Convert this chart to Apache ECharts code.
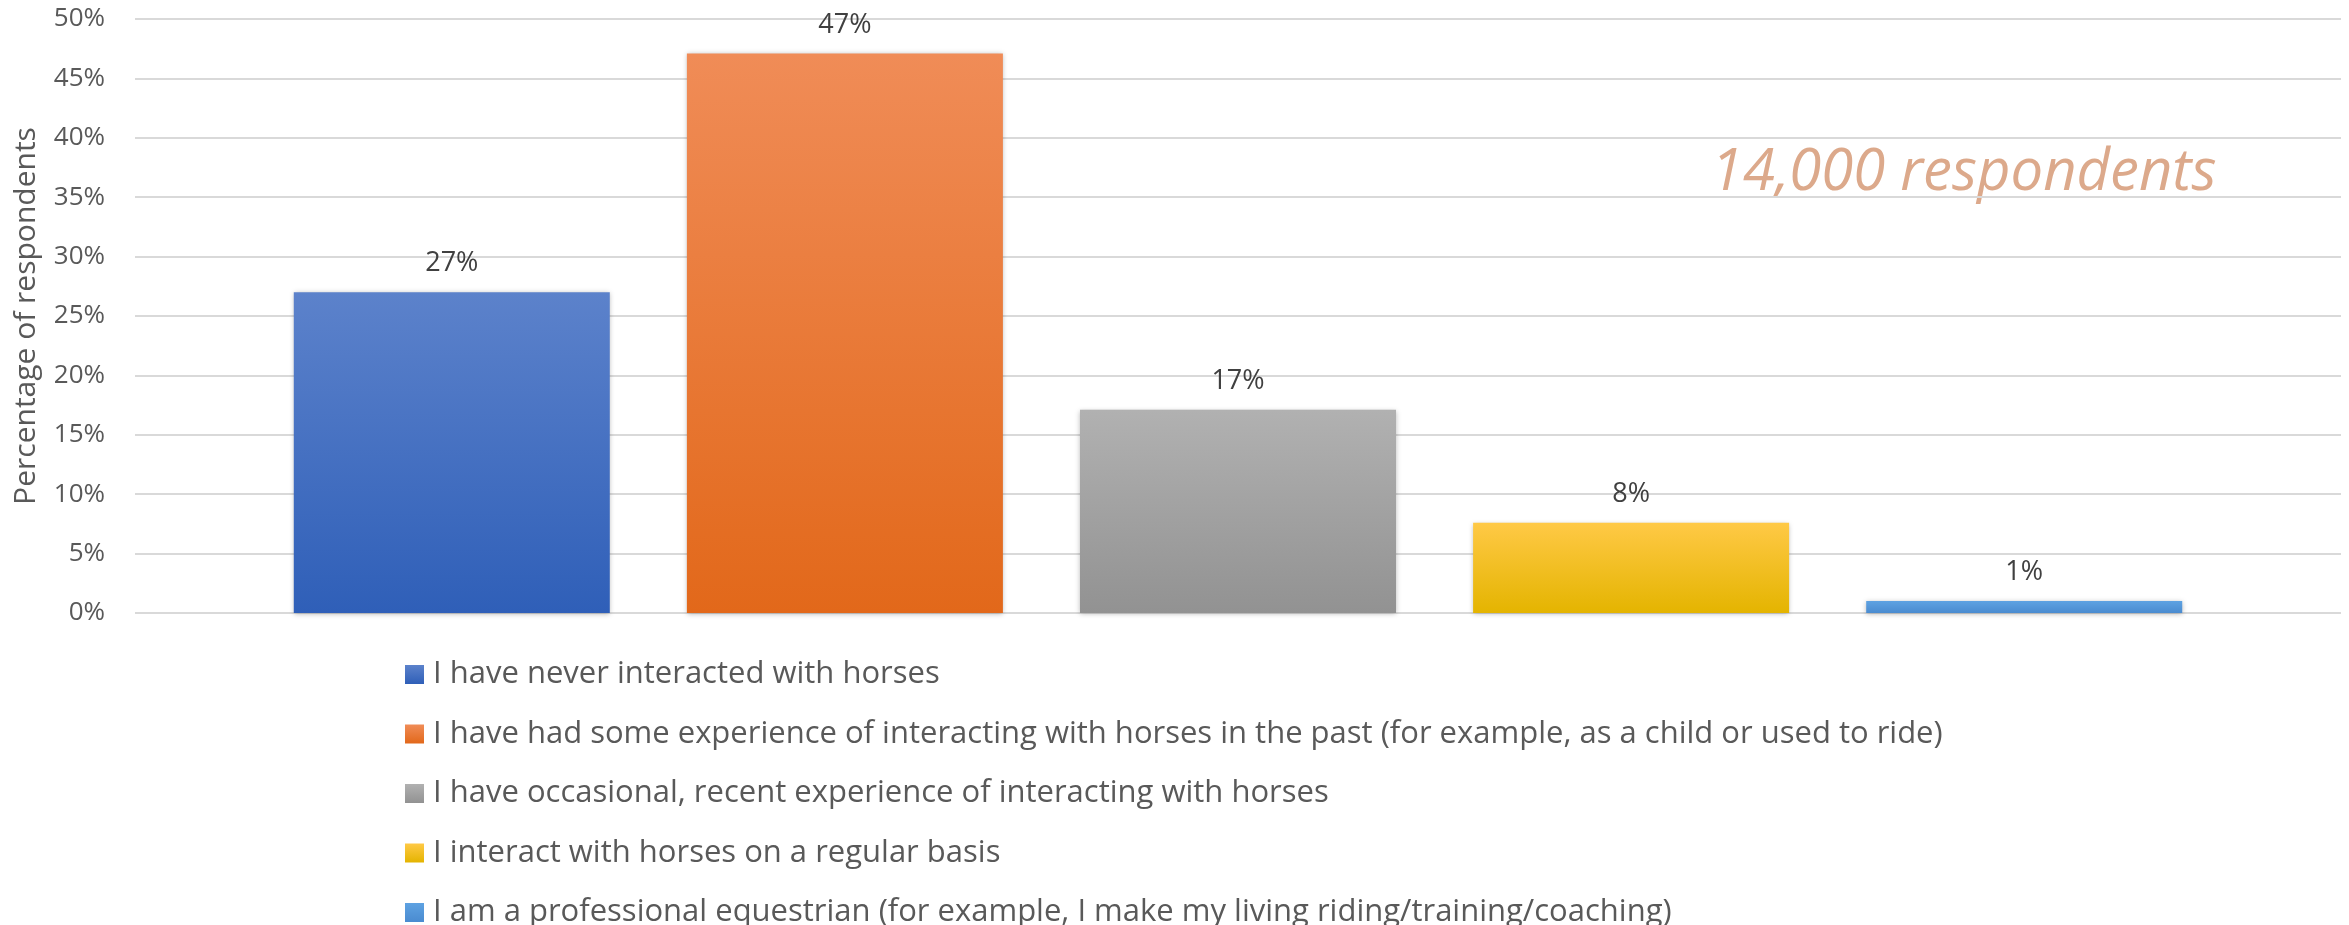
<!DOCTYPE html>
<html lang="en">
<head>
    <meta charset="UTF-8">
    <title>Horse experience</title>
    <style>
        html, body { margin: 0; padding: 0; background: #fff; }
        #main { width: 2349px; height: 925px; }
    </style>
    <script src="https://cdn.jsdelivr.net/npm/echarts@6/dist/echarts.min.js"></script>
</head>
<body>
<div id="main"></div>
<script>
    // answer groups (one bar each)
    var answers = [
        'I have never interacted with horses',
        'I have had some experience of interacting with horses in the past (for example, as a child or used to ride)',
        'I have occasional, recent experience of interacting with horses',
        'I interact with horses on a regular basis',
        'I am a professional equestrian (for example, I make my living riding/training/coaching)'
    ];
    // percentage of respondents
    var shares = [27, 47.1, 17.1, 7.6, 1.0];
    // bar colours, top -> bottom of the gradient
    var colorsTop = ['#5c82cb', '#f08c57', '#b1b1b1', '#ffc946', '#5ea2e2'];
    var colorsBottom = ['#2f5fb8', '#e2681a', '#929292', '#e4b400', '#4a8bd0'];
    var yTicks = [0, 5, 10, 15, 20, 25, 30, 35, 40, 45, 50];

    var font = '"Open Sans", "Noto Sans", sans-serif';
    var myChart = echarts.init(document.getElementById('main'));

    var series = answers.map(function (name, i) {
        return {
            name: name,
            type: 'bar',
            data: [shares[i]],
            barWidth: 316,
            barGap: '24.4%',
            itemStyle: {
                color: new echarts.graphic.LinearGradient(0, 0, 0, 1, [
                    {offset: 0, color: colorsTop[i]},
                    {offset: 1, color: colorsBottom[i]}
                ]),
                shadowColor: 'rgba(0,0,0,0.28)',
                shadowBlur: 5,
                shadowOffsetY: 1
            },
            label: {
                show: true,
                position: 'top',
                distance: 15,
                color: '#404040',
                fontFamily: font,
                fontSize: 27,
                formatter: function (p) { return Math.round(p.value) + '%'; }
            },
            emphasis: {disabled: true}
        };
    });

    var option = {
        animation: false,
        grid: {left: 135, right: 8, top: 19, bottom: 312},
        xAxis: {
            type: 'category',
            data: [''],
            axisLine: {show: false},
            axisTick: {show: false},
            axisLabel: {show: false}
        },
        yAxis: {
            type: 'value',
            min: yTicks[0],
            max: yTicks[yTicks.length - 1],
            interval: 5,
            name: 'Percentage of respondents',
            nameLocation: 'middle',
            nameGap: 94,
            nameTextStyle: {color: '#595959', fontFamily: font, fontSize: 30},
            axisLabel: {
                color: '#595959',
                fontFamily: font,
                fontSize: 26,
                margin: 30,
                formatter: '{value}%'
            },
            splitLine: {lineStyle: {color: '#d9d9d9', width: 2}}
        },
        legend: {
            orient: 'vertical',
            left: 405,
            top: 659,
            width: 1700,
            height: 400,
            padding: 0,
            icon: 'rect',
            itemWidth: 19,
            itemHeight: 19,
            itemGap: 28.5,
            selectedMode: false,
            textStyle: {
                color: '#595959',
                fontFamily: font,
                fontSize: 31,
                lineHeight: 30,
                padding: [0, 0, 0, 4]
            },
            data: answers
        },
        graphic: [{
            type: 'text',
            left: 1711,
            top: 144,
            style: {
                text: '14,000 respondents',
                font: 'italic 58px "Open Sans", sans-serif',
                fill: '#dca98b'
            }
        }],
        series: series
    };

    myChart.setOption(option);
</script>
</body>
</html>
